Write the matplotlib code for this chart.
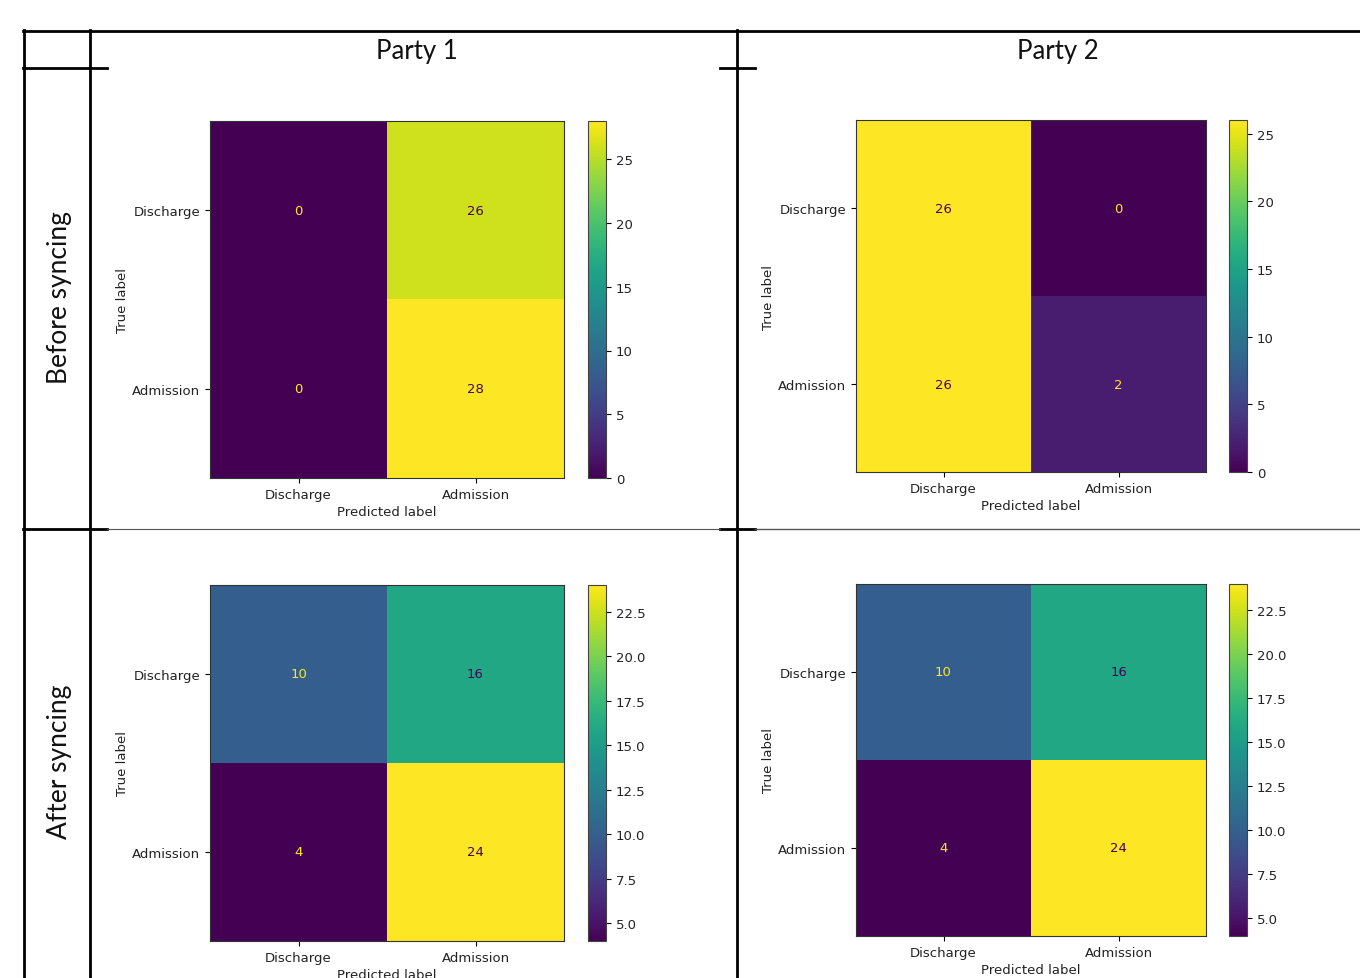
import matplotlib
matplotlib.use("Agg")
import matplotlib.pyplot as plt
import numpy as np

W, H = 1360, 979

# ---- data ----
classes = ["Discharge", "Admission"]
col_titles = ["Party 1", "Party 2"]
row_titles = ["Before syncing", "After syncing"]
cm_p1_before = [[0, 26], [0, 28]]
cm_p2_before = [[26, 0], [26, 2]]
cm_p1_after = [[10, 16], [4, 24]]
cm_p2_after = [[10, 16], [4, 24]]
cbar_ticks_before = [0, 5, 10, 15, 20, 25]
cbar_ticks_after = [5.0, 7.5, 10.0, 12.5, 15.0, 17.5, 20.0, 22.5]

fig = plt.figure(figsize=(W / 100, H / 100), dpi=100)


def rect(x0, y0, x1, y1):
    return [x0 / W, 1 - y1 / H, (x1 - x0) / W, (y1 - y0) / H]


# overlay for table lines
ov = fig.add_axes([0, 0, 1, 1], zorder=0)
ov.set_xlim(0, W)
ov.set_ylim(H, 0)
ov.axis("off")
thick = 2.0
ov.plot([23, W], [32, 32], color="black", lw=thick)
for x in (24, 90, 737):
    ov.plot([x, x], [31, H], color="black", lw=thick)
ov.plot([23, 107], [69, 69], color="black", lw=thick)
ov.plot([720, 755], [69, 69], color="black", lw=thick)
ov.plot([23, 107], [530, 530], color="black", lw=thick)
ov.plot([720, 755], [530, 530], color="black", lw=thick)
ov.plot([107, 720], [530, 530], color="#555555", lw=0.8)
ov.plot([755, W], [530, 530], color="#555555", lw=1.0)

hdr_font = ["Lato", "DejaVu Sans"]
ov.text(417, 51, col_titles[0], ha="center", va="center", fontsize=18.5, family=hdr_font, color="#111111")
ov.text(1058, 51, col_titles[1], ha="center", va="center", fontsize=18.5, family=hdr_font, color="#111111")
ov.text(60, 298, row_titles[0], ha="center", va="center", rotation=90, fontsize=19, family=hdr_font, color="#111111")
ov.text(60, 762, row_titles[1], ha="center", va="center", rotation=90, fontsize=19, family=hdr_font, color="#111111")

cmap = plt.get_cmap("viridis")
fs = 9.5


def panel(cm, box, cbox, ticks):
    cm = np.array(cm)
    ax = fig.add_axes(rect(*box), zorder=2)
    im = ax.imshow(cm, cmap="viridis", aspect="auto", interpolation="nearest")
    vmin, vmax = cm.min(), cm.max()
    thresh = (vmin + vmax) / 2.0
    for i in range(2):
        for j in range(2):
            c = cmap(0.0) if cm[i, j] >= thresh else cmap(1.0)
            ax.text(j, i, str(cm[i, j]), ha="center", va="center", color=c, fontsize=fs)
    ax.set_xticks([0, 1])
    ax.set_xticklabels(classes, fontsize=fs, color="#222222")
    ax.set_yticks([0, 1])
    ax.set_yticklabels(classes, fontsize=fs, color="#222222")
    ax.set_xlabel("Predicted label", fontsize=fs, color="#222222", labelpad=3)
    ax.set_ylabel("True label", fontsize=fs, color="#222222", labelpad=2)
    for s in ax.spines.values():
        s.set_color("#333333")
    cax = fig.add_axes(rect(*cbox), zorder=2)
    cb = fig.colorbar(im, cax=cax)
    cb.set_ticks(ticks)
    if isinstance(ticks[0], float):
        cb.set_ticklabels([f"{t:.1f}" for t in ticks])
    cax.tick_params(labelsize=fs, labelcolor="#222222")
    cb.outline.set_edgecolor("#444444")


panel(cm_p1_before, (210, 122, 564, 479), (588, 122, 606, 479), cbar_ticks_before)
panel(cm_p2_before, (856, 121, 1206, 473), (1229, 121, 1247, 473), cbar_ticks_before)
panel(cm_p1_after, (210, 586, 564, 942), (588, 586, 606, 942), cbar_ticks_after)
panel(cm_p2_after, (856, 585, 1206, 937), (1229, 585, 1247, 937), cbar_ticks_after)

fig.savefig("out.png", dpi=100)
